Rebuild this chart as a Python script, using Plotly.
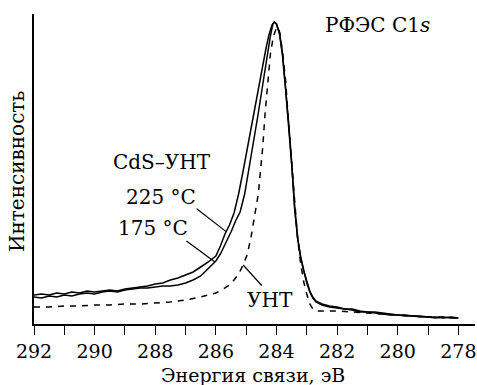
import numpy as np
import plotly.graph_objects as go

# Binding energy (eV) and intensity (arb. units)
e_225 = [292.0, 291.75, 291.5, 291.25, 291.0, 290.75, 290.5, 290.25, 290.0, 289.75,
         289.5, 289.25, 289.0, 288.75, 288.5, 288.25, 288.0, 287.75, 287.5, 287.25,
         287.0, 286.75, 286.5, 286.25, 286.0, 285.85, 285.7, 285.55, 285.4, 285.25,
         285.1, 284.95, 284.8, 284.65, 284.5, 284.35, 284.25, 284.15, 284.08, 284.0,
         283.9, 283.8, 283.7, 283.6, 283.5, 283.4, 283.3, 283.2, 283.1, 283.0,
         282.9, 282.8, 282.7, 282.5, 282.25, 282.0, 281.75, 281.5, 281.25, 281.0,
         280.75, 280.5, 280.25, 280.0, 279.75, 279.5, 279.25, 279.0, 278.75, 278.5,
         278.25, 278.0]
i_225 = [29, 30, 29, 31, 30, 32, 31, 33, 32, 33,
         34, 33, 35, 36, 37, 38, 40, 41, 44, 46,
         49, 52, 57, 62, 68, 78, 90, 99, 111, 130,
         153, 178, 204, 228, 252, 275, 289, 299, 302, 300,
         290, 268, 235, 200, 160, 115, 85, 66, 52, 41,
         32, 26, 22, 19, 17, 16, 15, 14, 12, 12,
         11, 10, 9, 9, 8, 8, 7, 7, 6, 7,
         6, 6]

e_175 = [292.0, 291.75, 291.5, 291.25, 291.0, 290.75, 290.5, 290.25, 290.0, 289.75,
         289.5, 289.25, 289.0, 288.75, 288.5, 288.25, 288.0, 287.75, 287.5, 287.25,
         287.0, 286.75, 286.5, 286.25, 286.0, 285.85, 285.7, 285.5, 285.35, 285.2,
         285.05, 284.94, 284.8, 284.61, 284.45, 284.3, 284.2, 284.12, 284.06, 284.0,
         283.9, 283.8, 283.7, 283.6, 283.5, 283.4, 283.3, 283.2, 283.1, 283.0,
         282.9, 282.8, 282.7, 282.5, 282.25, 282.0, 281.75, 281.5, 281.25, 281.0,
         280.75, 280.5, 280.25, 280.0, 279.75, 279.5, 279.25, 279.0, 278.75, 278.5,
         278.25, 278.0]
i_175 = [27, 26, 28, 27, 29, 28, 30, 31, 30, 32,
         33, 32, 34, 35, 36, 36, 37, 38, 38, 39,
         41, 44, 48, 55, 63, 70, 79, 92, 103, 112,
         130, 149, 175, 209, 240, 270, 288, 300, 302, 300,
         291, 270, 237, 202, 162, 117, 86, 67, 53, 42,
         33, 27, 23, 20, 18, 17, 15, 15, 13, 12,
         12, 11, 10, 9, 9, 8, 8, 7, 7, 6,
         7, 6]

e_unt = [292.0, 291.5, 291.0, 290.5, 290.0, 289.5, 289.0, 288.5, 288.0, 287.5,
         287.0, 286.5, 286.0, 285.75, 285.5, 285.25, 285.1, 284.97, 284.85, 284.71,
         284.6, 284.54, 284.45, 284.38, 284.3, 284.2, 284.1, 284.0, 283.95, 283.88,
         283.8, 283.7, 283.62, 283.5, 283.4, 283.3, 283.2, 283.1, 283.0, 282.9,
         282.8, 282.7, 282.5, 282.25, 282.0, 281.5, 281.0, 280.5, 280.0, 279.5,
         279.0, 278.5, 278.0]
i_unt = [17, 17, 18, 18, 19, 19, 20, 20, 21, 22,
         24, 27, 31, 35, 40, 50, 59, 69, 85, 109,
         130, 149, 178, 209, 240, 270, 288, 296, 297, 290,
         272, 244, 209, 165, 120, 85, 60, 42, 30, 20,
         15, 13, 13, 13, 13, 12, 11, 10, 9, 8,
         7, 7, 6]

x_ticks = [292, 290, 288, 286, 284, 282, 280, 278]

FONT = "DejaVu Serif"
FS = 20
FS_AX = 19
W, H = 477, 385
L, R, T, B = 34, 2, 14, 61

fig = go.Figure()
fig.add_trace(go.Scatter(x=e_225, y=i_225, mode="lines", name="225 °C",
                         line=dict(color="black", width=1.5)))
fig.add_trace(go.Scatter(x=e_175, y=i_175, mode="lines", name="175 °C",
                         line=dict(color="black", width=1.5)))
fig.add_trace(go.Scatter(x=e_unt, y=i_unt, mode="lines", name="УНТ",
                         line=dict(color="black", width=1.5, dash="6px,6px")))

pw = W - L - R
ph = H - T - B


def px(xp):
    return (xp - L) / pw


def py(yp):
    return (H - B - yp) / ph


ann = []
txt = dict(showarrow=False, xref="paper", yref="paper",
           xanchor="center", yanchor="middle")
f_main = dict(family=FONT, size=FS, color="black")
f_ax = dict(family=FONT, size=FS_AX, color="black")
ann.append(dict(text="РФЭС C1<i>s</i>", x=px(377), y=py(25), font=f_main, **txt))
ann.append(dict(text="CdS–УНТ", x=px(162), y=py(162), font=f_main, **txt))
ann.append(dict(text="225 °C", x=px(161), y=py(197), font=f_main, **txt))
ann.append(dict(text="175 °C", x=px(153), y=py(228), font=f_main, **txt))
ann.append(dict(text="УНТ", x=px(270), y=py(300), font=f_main, **txt))
ann.append(dict(text="Энергия связи, эВ", x=px(253), y=py(375), font=f_ax, **txt))
ann.append(dict(text="Интенсивность", x=px(17), y=py(172), textangle=-90,
                font=dict(family=FONT, size=20, color="black"), **txt))

# leader lines pointing at the curves
lead = dict(text="", showarrow=True, arrowhead=0, arrowwidth=1.2,
            arrowcolor="black", xref="x", yref="y", axref="pixel", ayref="pixel")
e1 = 285.66
ann.append(dict(x=e1, y=float(np.interp(e1, e_225[::-1], i_225[::-1])), ax=-31, ay=-24, **lead))
e2 = 286.03
ann.append(dict(x=e2, y=float(np.interp(e2, e_175[::-1], i_175[::-1])), ax=-30, ay=-22, **lead))
e3 = 285.10
ann.append(dict(x=e3, y=float(np.interp(e3, e_unt[::-1], i_unt[::-1])), ax=20, ay=22, **lead))

fig.update_layout(
    width=W, height=H,
    margin=dict(l=L, r=R, t=T, b=B, pad=0),
    paper_bgcolor="white", plot_bgcolor="white",
    showlegend=False,
    annotations=ann,
    font=dict(family=FONT, size=FS, color="black"),
)
fig.update_xaxes(
    range=[292, 277.45], tickvals=x_ticks, ticktext=[str(v) for v in x_ticks],
    ticks="outside", ticklen=9, tickwidth=1.3, tickcolor="black",
    ticklabeloverflow="allow",
    showline=True, linecolor="black", linewidth=1.5,
    showgrid=False, zeroline=False,
    tickfont=dict(family=FONT, size=FS_AX, color="black"),
    minor=dict(dtick=1, tick0=292, ticks="outside", ticklen=9, tickwidth=1.3,
               tickcolor="black", showgrid=False),
)
fig.update_yaxes(
    range=[0, 310], showticklabels=False, ticks="",
    showline=True, linecolor="black", linewidth=1.5,
    showgrid=False, zeroline=False,
)
fig.write_html("out.html")
